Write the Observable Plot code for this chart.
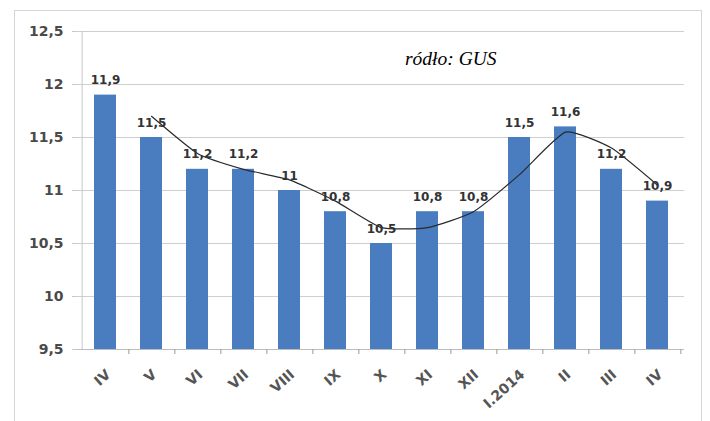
<!DOCTYPE html>
<html><head><meta charset="utf-8">
<script src="https://cdn.jsdelivr.net/npm/d3@7"></script>
<script src="https://cdn.jsdelivr.net/npm/@observablehq/plot@0.6"></script>
<style>
body{margin:0;background:#fff;}
#wrap{position:relative;width:710px;height:421px;overflow:hidden;}
#wrap svg{position:absolute;left:0;top:0;}
#border{position:absolute;left:14px;top:10px;width:688px;height:420px;border:1.5px solid #d6d6d6;box-sizing:border-box;}
#src{position:absolute;left:405px;top:48px;font:italic 19.5px "Liberation Serif",serif;color:#000;}
</style></head><body><div id="wrap"><div id="border"></div><div id="src">ródło: GUS</div></div>
<script>
const months = ["IV","V","VI","VII","VIII","IX","X","XI","XII","I.2014","II","III","IV"];
const values = [11.9,11.5,11.2,11.2,11,10.8,10.5,10.8,10.8,11.5,11.6,11.2,10.9];
const trend = [null,11.7,11.35,11.2,11.1,10.9,10.65,10.65,10.8,11.15,11.55,11.4,11.05];
const yTicks = [9.5,10,10.5,11,11.5,12,12.5];

const fmt = d => String(d).replace(".", ",");
const bars = months.map((m,i)=>({i, m, v: values[i]}));
const line = trend.map((t,i)=>({i, t})).filter(d=>d.t!=null);
const W = 710, H = 421, mL = 77, mR = 26, mT = 31, mB = 72;
const step = (W - mL - mR) / months.length;

const chart = Plot.plot({
  width: W, height: H,
  marginLeft: mL, marginRight: mR, marginTop: mT, marginBottom: mB,
  style: {background: "transparent", overflow: "visible"},
  x: {type: "band", domain: d3.range(months.length), paddingInner: 0.53, paddingOuter: 0.265, label: null, axis: null},
  y: {domain: [9.5, 12.5], label: null},
  marks: [
    Plot.ruleY(yTicks.slice(1), {stroke: "#cfcfcf", strokeWidth: 1}),
    Plot.ruleY([9.5], {stroke: "#bdbdbd", strokeWidth: 1}),
    Plot.ruleX([0], {x: d=>d, y1: 9.5, y2: 12.5, dx: -step/2, stroke: "#c8c8c8"}),
    Plot.ruleX(d3.range(months.length), {x: d=>d, y1: 9.5, y2: 9.5, insetBottom: -5, dx: step/2, stroke: "#9a9a9a"}),
    Plot.axisY({ticks: yTicks, tickFormat: fmt, tickSize: 5, tickPadding: 9, fontSize: 14, fontWeight: "bold", fill: "#4a4a4a", stroke: "#c8c8c8", fontFamily: "DejaVu Sans"}),
    Plot.text(bars, {x: "i", y: 9.5, text: "m", rotate: -42, textAnchor: "end", lineAnchor: "middle", dy: 23, dx: 3, fontSize: 14, fontFamily: "DejaVu Sans", fontWeight: "bold", fill: "#555"}),
    Plot.barY(bars, {x: "i", y1: 9.5, y2: "v", fill: "#4a7dc0"}),
    Plot.line(line, {x: "i", y: "t", curve: "cardinal", tension: 0.5, stroke: "#2a2a2a", strokeWidth: 1.2}),
    Plot.text(bars, {x: "i", y: "v", text: d=>fmt(d.v), lineAnchor: "bottom", dy: -11, fontSize: 12, fontWeight: "bold", fontFamily: "DejaVu Sans", fill: "#333"})
  ]
});
document.getElementById("wrap").insertBefore(chart, document.getElementById("border"));
</script></body></html>
